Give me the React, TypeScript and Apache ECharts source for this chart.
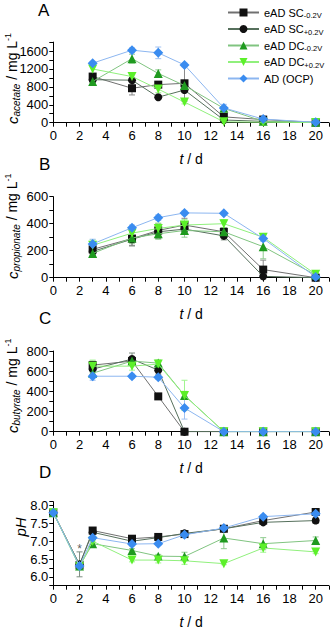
import React, { useEffect, useRef } from 'react';
import * as echarts from 'echarts';

const seriesNames = ['eAD SC-0.2V', 'eAD SC+0.2V', 'eAD DC-0.2V', 'eAD DC+0.2V', 'AD (OCP)'];
const legendMain = ['eAD SC', 'eAD SC', 'eAD DC', 'eAD DC', 'AD (OCP)'];
const legendSub = ['-0.2V', '+0.2V', '-0.2V', '+0.2V', ''];

const daysVFA = [3, 6, 8, 10, 13, 16, 20];
const daysPH = [0, 2, 3, 6, 8, 10, 13, 16, 20];

// Panel A: acetate (mg/L)
const acetateSCm = [1030, 770, 850, 880, 130, 70, 5];
const acetateSCp = [960, 950, 570, 730, 60, 30, 5];
const acetateDCm = [920, 1430, 1100, 830, 320, 30, 10];
const acetateDCp = [1200, 1030, 750, 460, 20, 10, 5];
const acetateAD = [1330, 1620, 1560, 1290, 330, 80, 10];
const acetateErrSCm = [60, 150, 40, 400, 40, 20, 0];
const acetateErrSCp = [60, 60, 40, 60, 30, 0, 0];
const acetateErrDCm = [80, 100, 80, 60, 40, 0, 0];
const acetateErrDCp = [100, 90, 80, 40, 20, 0, 0];
const acetateErrAD = [40, 50, 130, 40, 80, 30, 0];

// Panel B: propionate (mg/L)
const propionateSCm = [210, 290, 350, 390, 340, 60, 0];
const propionateSCp = [195, 285, 340, 360, 310, 10, 0];
const propionateDCm = [180, 295, 325, 350, 340, 230, 20];
const propionateDCp = [240, 330, 365, 390, 400, 300, 25];
const propionateAD = [250, 370, 445, 480, 477, 290, 5];
const propionateErrSCm = [40, 50, 50, 50, 30, 70, 0];
const propionateErrSCp = [30, 50, 50, 40, 30, 10, 0];
const propionateErrDCm = [30, 40, 40, 50, 30, 90, 10];
const propionateErrDCp = [40, 40, 40, 40, 30, 20, 10];
const propionateErrAD = [35, 20, 20, 15, 10, 20, 5];

// Panel C: butyrate (mg/L)
const butyrateSCm = [660, 700, 350, 0, 0, 0, 0];
const butyrateSCp = [620, 720, 610, 0, 0, 0, 0];
const butyrateDCm = [580, 700, 680, 360, 0, 0, 0];
const butyrateDCp = [650, 650, 670, 360, 0, 0, 0];
const butyrateAD = [550, 550, 540, 235, 0, 0, 0];
const butyrateErrSCm = [40, 40, 20, 0, 0, 0, 0];
const butyrateErrSCp = [50, 60, 40, 0, 0, 0, 0];
const butyrateErrDCm = [40, 30, 30, 40, 0, 0, 0];
const butyrateErrDCp = [60, 40, 30, 150, 0, 0, 0];
const butyrateErrAD = [40, 20, 20, 110, 0, 0, 0];

// Panel D: pH
const pHSCm = [7.8, 6.33, 7.3, 7.07, 7.12, 7.2, 7.35, 7.58, 7.82];
const pHSCp = [7.8, 6.35, 7.25, 7.0, 7.1, 7.22, 7.35, 7.53, 7.58];
const pHDCm = [7.8, 6.3, 6.93, 6.74, 6.58, 6.57, 7.09, 6.93, 7.02];
const pHDCp = [7.8, 6.28, 7.0, 6.47, 6.47, 6.45, 6.37, 6.81, 6.7];
const pHAD = [7.8, 6.3, 7.1, 6.92, 6.93, 7.18, 7.37, 7.69, 7.77];
const pHErrSCm = [0, 0.1, 0.03, 0.05, 0.03, 0.05, 0.03, 0.05, 0.03];
const pHErrSCp = [0, 0.35, 0.03, 0.05, 0.03, 0.05, 0.03, 0.05, 0.08];
const pHErrDCm = [0, 0.1, 0.05, 0.05, 0.05, 0.12, 0.3, 0.17, 0.1];
const pHErrDCp = [0, 0.08, 0.05, 0.05, 0.08, 0.1, 0.03, 0.12, 0.05];
const pHErrAD = [0, 0.05, 0.05, 0.05, 0.05, 0.05, 0.05, 0.05, 0.05];
const asteriskPoint = [2, 6.79];

const xTickLabels = ['0', '2', '4', '6', '8', '10', '12', '14', '16', '18', '20'];

const markerColors = ['#111111', '#111111', '#1f9a1f', '#5cf02a', '#3a8cf0'];
const lineColors = ['#707070', '#56705c', '#80c480', '#90f07c', '#8cb6f0'];
const errColors = ['#8a8a8a', '#7d8d80', '#90cc90', '#a0f590', '#a0c2f2'];
const symbols = ['rect', 'circle', 'triangle', 'triangle', 'diamond'];
const symbolRotations = [0, 0, 0, 180, 0];
const symbolSizes = [8, 8, 9, 9, 10];

const FONT = '"Liberation Sans", Arial, Helvetica, sans-serif';

const panels = [
  { days: daysVFA, values: [acetateSCm, acetateSCp, acetateDCm, acetateDCp, acetateAD], errs: [acetateErrSCm, acetateErrSCp, acetateErrDCm, acetateErrDCp, acetateErrAD] },
  { days: daysVFA, values: [propionateSCm, propionateSCp, propionateDCm, propionateDCp, propionateAD], errs: [propionateErrSCm, propionateErrSCp, propionateErrDCm, propionateErrDCp, propionateErrAD] },
  { days: daysVFA, values: [butyrateSCm, butyrateSCp, butyrateDCm, butyrateDCp, butyrateAD], errs: [butyrateErrSCm, butyrateErrSCp, butyrateErrDCm, butyrateErrDCp, butyrateErrAD] },
  { days: daysPH, values: [pHSCm, pHSCp, pHDCm, pHDCp, pHAD], errs: [pHErrSCm, pHErrSCp, pHErrDCm, pHErrDCp, pHErrAD] },
];

const grids = [
  { left: 53.3, right: 2.2, top: 42.1, height: 80.6 },
  { left: 53.3, right: 2.2, top: 196.7, height: 81 },
  { left: 53.3, right: 2.2, top: 351, height: 80.7 },
  { left: 53.3, right: 2.2, top: 501.7, height: 84 },
];

const yAxisCfg = [
  { min: 0, max: 1800, interval: 200, labelEvery: 400, digits: 0 },
  { min: 0, max: 600, interval: 100, labelEvery: 200, digits: 0 },
  { min: 0, max: 800, interval: 100, labelEvery: 200, digits: 0 },
  { min: 5.75, max: 8.11, interval: 0.25, labelEvery: 0.5, digits: 1, lo: 6, hi: 8 },
];

const axisLineStyle = { lineStyle: { color: '#000', width: 1 } };

export default function App() {
  const ref = useRef<HTMLDivElement>(null);
  useEffect(() => {
    if (!ref.current) return;
    const chart = echarts.init(ref.current, null, { renderer: 'svg' });

    const xAxes = grids.map((_, gi) => ({
      type: 'value',
      gridIndex: gi,
      min: 0,
      max: 21,
      interval: 1,
      axisLine: axisLineStyle,
      axisTick: { show: true, length: 4, lineStyle: { color: '#000' } },
      splitLine: { show: false },
      axisLabel: {
        color: '#000',
        fontSize: 13,
        fontFamily: FONT,
        margin: 6,
        formatter: (v: number) => {
          const s = String(Math.round(v));
          return xTickLabels.includes(s) && Math.abs(v - Math.round(v)) < 1e-6 ? s : '';
        },
      },
      name: '{t|t}{n| / d}',
      nameLocation: 'middle',
      nameGap: 29,
      nameTextStyle: {
        color: '#000',
        rich: {
          t: { fontSize: 14, fontStyle: 'italic', fontFamily: FONT, color: '#000' },
          n: { fontSize: 14, fontFamily: FONT, color: '#000' },
        },
      },
    }));

    const yAxes = yAxisCfg.map((c, gi) => ({
      type: 'value',
      gridIndex: gi,
      min: c.min,
      max: c.max,
      interval: c.interval,
      axisLine: { show: true, ...axisLineStyle },
      axisTick: { show: true, length: 4, lineStyle: { color: '#000' } },
      splitLine: { show: false },
      axisLabel: {
        color: '#000',
        fontSize: 13,
        fontFamily: FONT,
        margin: 5,
        formatter: (v: number) => {
          const r = v / c.labelEvery;
          if (Math.abs(r - Math.round(r)) > 1e-6) return '';
          if (c.lo !== undefined && (v < c.lo - 1e-6 || v > c.hi + 1e-6)) return '';
          if (v > c.max - 1e-6 && c.max % c.labelEvery !== 0) return '';
          return v.toFixed(c.digits);
        },
      },
    }));

    const series: any[] = [];
    panels.forEach((p, gi) => {
      const errData: any[] = [];
      p.values.forEach((vals, si) => {
        vals.forEach((v, k) => {
          const e = p.errs[si][k];
          if (e > 0) errData.push([p.days[k], v, e, si]);
        });
      });
      series.push({
        type: 'custom',
        name: 'err' + gi,
        xAxisIndex: gi,
        yAxisIndex: gi,
        z: 1,
        silent: true,
        encode: { x: 0, y: 1 },
        data: errData,
        renderItem: (params: any, api: any) => {
          const x = api.value(0);
          const y = api.value(1);
          const e = api.value(2);
          const si = api.value(3);
          const top = api.coord([x, y + e]);
          const bot = api.coord([x, y - e]);
          const c = errColors[si];
          const hw = 3;
          const st = { stroke: c, lineWidth: 1 };
          return {
            type: 'group',
            children: [
              { type: 'line', shape: { x1: top[0], y1: top[1], x2: bot[0], y2: bot[1] }, style: st },
              { type: 'line', shape: { x1: top[0] - hw, y1: top[1], x2: top[0] + hw, y2: top[1] }, style: st },
              { type: 'line', shape: { x1: bot[0] - hw, y1: bot[1], x2: bot[0] + hw, y2: bot[1] }, style: st },
            ],
          };
        },
      });
      p.values.forEach((vals, si) => {
        series.push({
          type: 'line',
          name: seriesNames[si],
          xAxisIndex: gi,
          yAxisIndex: gi,
          z: 2 + si,
          data: vals.map((v, k) => [p.days[k], v]),
          symbol: symbols[si],
          symbolRotate: symbolRotations[si],
          symbolSize: symbolSizes[si],
          showAllSymbol: true,
          itemStyle: { color: markerColors[si] },
          lineStyle: { color: lineColors[si], width: 1 },
          emphasis: { disabled: true },
        });
      });
    });

    series.push({
      type: 'scatter',
      name: 'asterisk',
      xAxisIndex: 3,
      yAxisIndex: 3,
      data: [asteriskPoint],
      symbolSize: 1,
      itemStyle: { color: 'rgba(0,0,0,0)' },
      label: { show: true, position: 'inside', formatter: '*', fontSize: 12, color: '#333', fontFamily: FONT },
      z: 10,
    });

    const yNameRich = {
      c: { fontSize: 15, fontStyle: 'italic', fontFamily: FONT, color: '#000', lineHeight: 18 },
      cs: { fontSize: 10, fontStyle: 'italic', fontFamily: FONT, color: '#000', lineHeight: 10, verticalAlign: 'bottom' },
      n: { fontSize: 14, fontFamily: FONT, color: '#000', lineHeight: 18 },
      sup: { fontSize: 9, fontFamily: FONT, color: '#000', lineHeight: 9, verticalAlign: 'top' },
    };

    const yName = (sub: string, bottom: number) => ({
      type: 'text',
      x: 12,
      y: bottom,
      rotation: Math.PI / 2,
      style: {
        text: `{c|c}{cs|${sub}}{n| / mg L}{sup|-1}`,
        rich: yNameRich,
        align: 'left',
        verticalAlign: 'middle',
      },
    });

    const letter = (t: string, x: number, y: number) => ({
      type: 'text',
      left: x,
      top: y,
      style: { text: t, font: `17px ${FONT}`, fill: '#000' },
    });

    chart.setOption({
      animation: false,
      backgroundColor: '#fff',
      grid: grids.map((g) => ({ ...g, containLabel: false, outerBoundsMode: 'none' })),
      xAxis: xAxes,
      yAxis: yAxes,
      legend: {
        data: seriesNames,
        orient: 'vertical',
        left: 227,
        top: 7,
        itemWidth: 31,
        itemHeight: 10,
        itemGap: 4,
        padding: 0,
        selectedMode: false,
        textStyle: {
          fontSize: 11,
          fontFamily: FONT,
          color: '#000',
          padding: 0,
          rich: {
            n: { fontSize: 11, fontFamily: FONT, color: '#000', lineHeight: 14 },
            s: { fontSize: 7.5, fontFamily: FONT, color: '#000', lineHeight: 8, verticalAlign: 'bottom' },
          },
        },
        formatter: (name: string) => {
          const i = seriesNames.indexOf(name);
          return legendSub[i] ? `{n|${legendMain[i]}}{s|${legendSub[i]}}` : `{n|${legendMain[i]}}`;
        },
      },
      graphic: [
        letter('A', 38, 2),
        letter('B', 39, 156),
        letter('C', 39, 310),
        letter('D', 39, 464),
        yName('acetate', 124),
        yName('propionate', 279),
        yName('butyrate', 433),
        {
          type: 'text',
          x: 20,
          y: 527,
          rotation: Math.PI / 2,
          style: {
            text: 'pH',
            font: `italic 15px ${FONT}`,
            fill: '#000',
            align: 'center',
            verticalAlign: 'middle',
          },
        },
      ],
      series,
    });
    return () => chart.dispose();
  }, []);
  return <div ref={ref} style={{ position: 'fixed', left: 0, top: 0, width: 331, height: 629 }} />;
}
